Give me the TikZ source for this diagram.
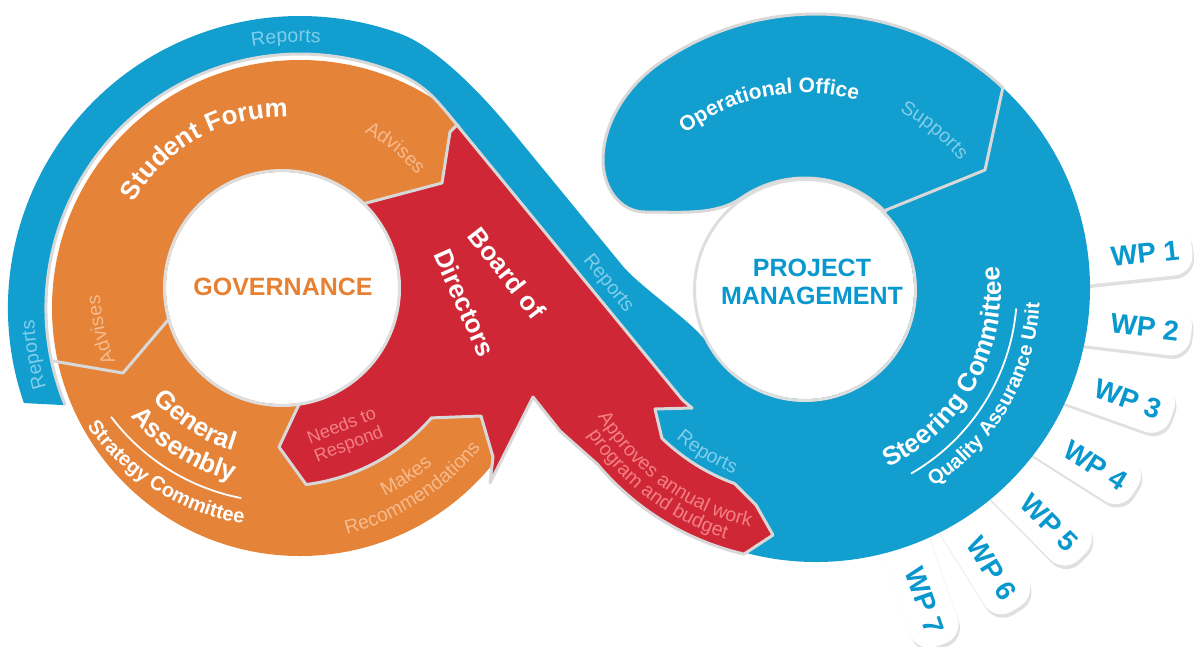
\documentclass[tikz,border=0pt]{standalone}
\usepackage{fontspec}
\setmainfont{Liberation Sans}
\usetikzlibrary{calc,decorations.text}

\definecolor{ringblue}{RGB}{18,158,206}
\definecolor{govorange}{RGB}{229,131,57}
\definecolor{boardred}{RGB}{208,39,54}
\definecolor{seamgrey}{RGB}{216,216,216}
\definecolor{palecyan}{RGB}{128,206,234}
\definecolor{paleorange}{RGB}{247,186,140}
\definecolor{palered}{RGB}{242,128,132}
\definecolor{headorange}{RGB}{232,128,50}
\definecolor{headblue}{RGB}{8,152,206}

\newcommand\fsBig{\fontsize{26}{30}\selectfont\bfseries}
\newcommand\fsMid{\fontsize{20}{24}\selectfont\bfseries}
\newcommand\fsOff{\fontsize{21}{24}\selectfont\bfseries}
\newcommand\fsLight{\fontsize{19.5}{22}\selectfont}
\newcommand\fsHead{\fontsize{25}{28}\selectfont\bfseries}
\newcommand\fsTab{\fontsize{28}{30}\selectfont\bfseries}

\tikzset{
  seam/.style={draw=seamgrey, line width=3pt, line join=round},
  arclabel/.style n args={3}{decorate, decoration={text along path, text align=center, text color=#1, text={|#2|#3}}},
  tabshape/.style={rectangle, rounded corners=20pt, minimum width=128pt, minimum height=50pt, inner sep=0pt},
}

\begin{document}
\begin{tikzpicture}[x=1pt,y=-1pt]
\useasboundingbox (0,0) rectangle (1199,646);
\coordinate (CL) at (300,308);
\coordinate (GW) at (282,288);
\coordinate (PM) at (805,290);
\coordinate (CR) at (816,288);

% work-package tabs fanning out of the steering ring
\foreach \a [count=\i] in {-6,6.8,19.6,32.4,45.2,58,70.8}{
  \node[tabshape, fill=black, opacity=0.12, rotate={-1*\a}] (wpshadow\i) at ($(CR)+(\a:314)+(1.5,3.5)$) {};
  \node[tabshape, fill=white, rotate={-1*\a}] (wptab\i) at ($(CR)+(\a:314)$) {};
  \node[text=headblue, font=\fsTab, rotate={-1*\a}] (wp\i) at ($(CR)+(\a:331)$) {WP \i};
}

% governance ring (orange)
\fill[govorange] (CL) circle[radius=248];
\draw[seam] (53,361) -- (123,373) -- (168,320);

% steering ring (blue)
\fill[ringblue] (CR) -- ($(CR)+(-47:274)$) arc[start angle=-47, end angle=135, radius=274] -- cycle;

% reporting loop: left band, diagonal and junction with the ring
\fill[ringblue] ($(CL)+(161:292)$) arc[start angle=161, end angle=290, radius=292]
  .. controls (437.5,47.3) and (483.9,96.8) .. (509.3,127.7)
  -- (621.9,265)
  .. controls (640.9,288.2) and (696.4,323.9) .. ($(PM)+(150:111)$)
  arc[start angle=150, end angle=100, radius=111]
  -- (792,470) -- (700,470) -- (640,430) -- (633.4,340) -- (459.3,127.7)
  .. controls (433.9,96.8) and (424.5,83) .. ($(CL)+(290:254)$)
  arc[start angle=290, end angle=157.5, radius=254] -- cycle;
\draw[seam] ($(CL)+(157.5:254)$) arc[start angle=157.5, end angle=290, radius=254]
  .. controls (424.5,83) and (433.9,96.8) .. (459.3,127.7);

% board of directors (red)
\filldraw[fill=boardred, seam] (457,125) -- (682.6,400) -- (692,408) -- (655,409)
  -- ($(PM)+(134:206)$) arc[start angle=134, end angle=110, radius=206]
  -- (756,505) -- (773,535) -- ($(PM)+(103:271)$) arc[start angle=103, end angle=140, radius=271]
  -- (560,431) -- (533,397) -- (490,483) -- (493,457) -- (481,416)
  -- ($(GW)+(41:198)$) arc[start angle=41, end angle=83, radius=198]
  -- (279,447) -- ($(GW)+(81.5:117)$) arc[start angle=81.5, end angle=-46, radius=117]
  -- (442,183) -- (450,132) -- cycle;

% operational office
\filldraw[fill=ringblue, seam] ($(CR)+(-47:274)$) arc[start angle=-47, end angle=-125, radius=274]
  .. controls (630.1,83.7) and (603,120) .. (603,160)
  .. controls (603,188) and (620,212) .. (645,212)
  .. controls (680,212) and (716.2,215.5) .. ($(PM)+(-125:112)$)
  arc[start angle=-125, end angle=-45, radius=112]
  -- (985,170) -- cycle;

% central discs
\fill[white] (GW) circle[radius=116];
\draw[black!13, line width=3pt] (GW) circle[radius=117.5];
\fill[white] (PM) circle[radius=109];
\draw[black!13, line width=3pt] (PM) circle[radius=110.5];

% thin rules between sub-labels
\draw[white, line width=1.8pt] ($(GW)+(143:214)$) arc[start angle=143, end angle=101, radius=214];
\draw[white, line width=1.8pt] ($(PM)+(60:212)$) arc[start angle=60, end angle=5, radius=212];

% labels of the governance side
\path[arclabel={palecyan}{\fsLight}{Reports}] ($(CL)+(227:266)$) arc[start angle=227, end angle=307, radius=266];
\path[arclabel={palecyan}{\fsLight}{Reports}] ($(CL)+(130:266)$) arc[start angle=130, end angle=210, radius=266];
\path[arclabel={white}{\fsBig}{Student Forum}] ($(GW)+(171:171)$) arc[start angle=171, end angle=311, radius=171];
\path[arclabel={paleorange}{\fsLight}{Advises}] ($(GW)+(269:176)$) arc[start angle=269, end angle=349, radius=176];
\path[arclabel={paleorange}{\fsLight}{Advises}] ($(GW)+(127:182)$) arc[start angle=127, end angle=207, radius=182];
\path[arclabel={white}{\fsBig}{General}] ($(GW)+(173:170)$) arc[start angle=173, end angle=73, radius=170];
\path[arclabel={white}{\fsBig}{Assembly}] ($(GW)+(172:199)$) arc[start angle=172, end angle=72, radius=199];
\path[arclabel={white}{\fsMid}{Strategy Committee}] ($(GW)+(182:239)$) arc[start angle=182, end angle=62, radius=239];
\path[arclabel={paleorange}{\fsLight}{Makes}] ($(GW)+(106.6:232)$) arc[start angle=106.6, end angle=6.6, radius=232];
\path[arclabel={paleorange}{\fsLight}{Recommendations}] ($(GW)+(107:255)$) arc[start angle=107, end angle=7, radius=255];
\node[text=palered, font=\fontsize{18}{19.5}\selectfont, align=center, rotate=21] (respond) at (345.5,436) {Needs to\\Respond};
\node[text=headorange, font=\fsHead] (gov) at (283,287) {GOVERNANCE};

% board labels
\node[text=white, font=\fsBig, rotate=-52] (board1) at (507,273) {Board of};
\node[text=white, font=\fsBig, rotate=-66] (board2) at (465,303) {Directors};
\node[text=palecyan, font=\fsLight, rotate=-51] (repdiag) at (608,284) {Reports};

% labels of the project management side
\path[arclabel={palecyan}{\fsLight}{Reports}] ($(PM)+(161:197)$) arc[start angle=161, end angle=81, radius=197];
\path[arclabel={palered}{\fsLight}{Approves annual work}] ($(PM)+(185.8:243)$) arc[start angle=185.8, end angle=65.8, radius=243];
\path[arclabel={palered}{\fsLight}{program and budget}] ($(PM)+(187:261)$) arc[start angle=187, end angle=67, radius=261];
\path[arclabel={white}{\fsOff}{Operational Office}] ($(PM)+(189:197)$) arc[start angle=189, end angle=329, radius=197];
\path[arclabel={palecyan}{\fsLight}{Supports}] ($(PM)+(269:202)$) arc[start angle=269, end angle=349, radius=202];
\path[arclabel={white}{\fsBig}{Steering Committee}] ($(PM)+(99:196)$) arc[start angle=99, end angle=-41, radius=196];
\path[arclabel={white}{\fsMid}{Quality Assurance Unit}] ($(PM)+(100:235)$) arc[start angle=100, end angle=-40, radius=235];
\node[text=headblue, font=\fsHead, align=center] (pmtitle) at (812,282) {PROJECT\\MANAGEMENT};
\end{tikzpicture}
\end{document}
